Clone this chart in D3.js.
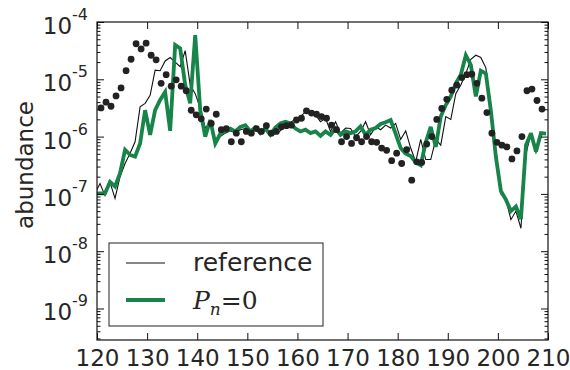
<!DOCTYPE html>
<html>
<head>
<meta charset="utf-8">
<script src="https://cdn.jsdelivr.net/npm/d3@7"></script>
<style>
  body { margin: 0; background: #fff; }
  text { font-family: "DejaVu Sans", sans-serif; fill: #262626; }
</style>
</head>
<body>
<div id="chart"></div>
<script>
// data, values are log10(abundance)
const xTicks = [120, 130, 140, 150, 160, 170, 180, 190, 200, 210];
const yDecades = [-9, -8, -7, -6, -5, -4];

// line samples sit at x = 119.6, 120.6, ... 209.6
const lineStart = 119.6;
const referenceLog = [
  -6.99, -6.82, -7.03, -6.80, -7.08, -6.70, -6.47, -6.29, -6.09, -5.48,
  -5.42, -5.28, -4.84, -4.85, -4.68, -4.62, -4.70, -4.78, -4.50, -5.10,
  -5.25, -5.50, -5.85, -5.75, -6.15, -6.00, -5.94, -5.90, -5.93, -5.88,
  -5.86, -5.90, -5.85, -5.92, -5.88, -5.95, -5.95, -5.90, -5.80, -5.75,
  -5.70, -5.65, -5.57, -5.60, -5.62, -5.74, -5.68, -5.91, -5.74, -5.94,
  -5.85, -5.86, -6.00, -5.91, -5.74, -5.97, -5.83, -5.88, -5.80, -5.85,
  -5.77, -6.05, -5.90, -6.20, -6.44, -6.05, -6.40, -6.40, -6.05, -6.15,
  -5.65, -5.70, -5.25, -5.10, -4.90, -4.65, -4.58, -4.62, -4.80, -5.50,
  -6.40, -7.00, -7.10, -7.45, -7.30, -7.60, -6.30, -5.95, -6.28, -5.95,
  -5.96
];
const pn0Log = [
  -6.99, -6.99, -6.99, -6.79, -6.87, -6.64, -6.23, -6.32, -6.35, -6.12,
  -5.54, -5.97, -5.54, -5.36, -5.22, -5.90, -4.40, -4.46, -5.10, -5.42,
  -4.23, -5.54, -6.00, -5.71, -6.12, -5.95, -5.90, -5.86, -5.91, -5.83,
  -5.80, -5.91, -5.84, -5.94, -5.86, -5.97, -5.84, -5.77, -5.74, -5.77,
  -5.86, -5.91, -5.88, -5.94, -5.91, -5.99, -5.91, -5.97, -5.86, -5.97,
  -5.91, -5.94, -5.91, -5.82, -5.97, -5.88, -5.85, -5.78, -5.75, -5.71,
  -5.95, -6.20, -6.30, -6.34, -6.45, -6.50, -6.10, -5.83, -6.18, -5.65,
  -5.45, -5.30, -5.07, -4.92, -4.58, -4.75, -5.30, -4.85, -4.90, -5.55,
  -6.35, -6.95, -7.10, -7.30, -7.22, -7.44, -6.15, -5.94, -6.26, -5.94,
  -5.95
];

// dots sit at x = 120.8, 121.8, ... 208.8
const dotStart = 120.8;
const dotsLog = [
  -5.50, -5.40, -5.47, -5.29, -5.15, -4.85, -4.65, -4.38, -4.47, -4.37,
  -4.58, -4.66, -5.07, -4.92, -5.12, -5.01, -5.12, -5.20, -5.54, -5.62,
  -5.69, -5.52, -5.77, -5.61, -5.88, -5.86, -6.09, -5.94, -6.09, -5.91,
  -5.94, -5.86, -5.91, -5.81, -5.94, -5.91, -5.83, -5.81, -5.80, -5.71,
  -5.68, -5.55, -5.59, -5.61, -5.65, -5.68, -5.80, -5.88, -6.09, -6.00,
  -6.12, -6.02, -6.09, -6.00, -6.09, -6.10, -6.20, -6.24, -6.42, -6.29,
  -6.47, -6.23, -6.76, -6.44, -6.45, -6.13, -6.00, -5.70, -5.51, -5.35,
  -5.19, -5.10, -4.97, -4.92, -4.91, -5.07, -5.33, -5.58, -5.94, -6.10,
  -6.15, -6.18, -6.39, -6.25, -6.00, -5.20, -5.17, -5.37, -5.52
];

const legendLabels = ['reference', 'Pn=0'];

const svgwidth = 570;
const svgheight = 370;
const margin = { top: 22, bottom: 30, left: 97, right: 22 };
const width = svgwidth - margin.left - margin.right;
const height = svgheight - margin.top - margin.bottom;

const green = '#17844a';

const svg = d3.select('#chart').append('svg')
  .attr('width', svgwidth).attr('height', svgheight);

const chartGroup = svg.append('g')
  .attr('transform', `translate(${margin.left},${margin.top})`);

// scales
const xScale = d3.scaleLinear().domain([120, 210]).range([0, width]);
const yScale = d3.scaleLog().domain([Math.pow(10, -9.55), 1e-4]).range([height, 0]);

// tidy rows
const refData = referenceLog.map((v, i) => ({ x: lineStart + i, y: Math.pow(10, v) }));
const pnData = pn0Log.map((v, i) => ({ x: lineStart + i, y: Math.pow(10, v) }));
const dotData = dotsLog.map((v, i) => ({ x: dotStart + i, y: Math.pow(10, v) }));

chartGroup.append('clipPath').attr('id', 'plotclip')
  .append('rect').attr('width', width).attr('height', height);

const plot = chartGroup.append('g').attr('clip-path', 'url(#plotclip)');

const line = d3.line().x(d => xScale(d.x)).y(d => yScale(d.y));

plot.append('path').datum(refData)
  .attr('d', line)
  .attr('fill', 'none')
  .attr('stroke', '#111')
  .attr('stroke-width', 1.1);

plot.append('path').datum(pnData)
  .attr('d', line)
  .attr('fill', 'none')
  .attr('stroke', green)
  .attr('stroke-width', 3.8)
  .attr('stroke-linejoin', 'miter')
  .attr('stroke-miterlimit', 3);

plot.selectAll('circle').data(dotData).enter()
  .append('circle')
  .attr('cx', d => xScale(d.x))
  .attr('cy', d => yScale(d.y))
  .attr('r', 3.4)
  .attr('fill', '#222');

// axes: ticks point inward on all four sides
const minorTicks = [];
for (let e = -10; e <= -5; e++) {
  for (let m = 2; m <= 9; m++) {
    const v = m * Math.pow(10, e);
    if (v >= yScale.domain()[0] && v <= 1e-4) minorTicks.push(v);
  }
}
const majorTicks = yDecades.map(e => Math.pow(10, e));

const xBottom = chartGroup.append('g')
  .attr('transform', `translate(0,${height})`)
  .call(d3.axisBottom(xScale).tickValues(xTicks).tickSizeInner(-7).tickSizeOuter(0).tickPadding(10));
const xTop = chartGroup.append('g')
  .call(d3.axisTop(xScale).tickValues(xTicks).tickSizeInner(-7).tickSizeOuter(0).tickFormat(''));

const yLeftMinor = chartGroup.append('g')
  .call(d3.axisLeft(yScale).tickValues(minorTicks).tickSizeInner(-3.5).tickSizeOuter(0).tickFormat(''));
const yLeft = chartGroup.append('g')
  .call(d3.axisLeft(yScale).tickValues(majorTicks).tickSizeInner(-7).tickSizeOuter(0).tickFormat(''));
const yRightMinor = chartGroup.append('g')
  .attr('transform', `translate(${width},0)`)
  .call(d3.axisRight(yScale).tickValues(minorTicks).tickSizeInner(-3.5).tickSizeOuter(0).tickFormat(''));
const yRight = chartGroup.append('g')
  .attr('transform', `translate(${width},0)`)
  .call(d3.axisRight(yScale).tickValues(majorTicks).tickSizeInner(-7).tickSizeOuter(0).tickFormat(''));

chartGroup.selectAll('.domain').remove();
chartGroup.selectAll('.tick line').attr('stroke', '#111').attr('stroke-width', 1);

xBottom.selectAll('text')
  .attr('font-size', 23)
  .attr('font-family', '"DejaVu Sans", sans-serif')
  .attr('fill', '#262626');

// y labels as 10 with a raised exponent
majorTicks.forEach((v, i) => {
  const t = chartGroup.append('text')
    .attr('x', -9)
    .attr('y', yScale(v) + 12)
    .attr('text-anchor', 'end');
  t.append('tspan').attr('font-size', 23).text('10');
  t.append('tspan').attr('font-size', 16).attr('dy', -14).text('-' + (-yDecades[i]));
});

// frame
chartGroup.append('rect')
  .attr('width', width).attr('height', height)
  .attr('fill', 'none').attr('stroke', '#111').attr('stroke-width', 1.2);

// y axis title
svg.append('text')
  .attr('transform', `translate(33, ${margin.top + 143}) rotate(-90)`)
  .attr('text-anchor', 'middle')
  .attr('font-size', 23)
  .text('abundance');

// legend
const legend = svg.append('g').attr('transform', 'translate(109,243)');
legend.append('rect')
  .attr('width', 214).attr('height', 83)
  .attr('fill', '#fff').attr('stroke', '#222').attr('stroke-width', 1);

legend.append('line')
  .attr('x1', 17).attr('x2', 56).attr('y1', 20).attr('y2', 20)
  .attr('stroke', '#111').attr('stroke-width', 1.1);
legend.append('text')
  .attr('x', 84).attr('y', 28)
  .attr('font-size', 25)
  .text(legendLabels[0]);

legend.append('line')
  .attr('x1', 17).attr('x2', 56).attr('y1', 57).attr('y2', 57)
  .attr('stroke', green).attr('stroke-width', 4);
const pn = legend.append('text')
  .attr('x', 84).attr('y', 66)
  .style('font-family', '"DejaVu Serif", "Liberation Serif", serif');
pn.append('tspan').attr('font-size', 25).attr('font-style', 'italic').text(legendLabels[1].charAt(0));
pn.append('tspan').attr('font-size', 17).attr('font-style', 'italic').attr('dy', 6).text(legendLabels[1].charAt(1));
pn.append('tspan').attr('font-size', 25).attr('dy', -6).text(legendLabels[1].slice(2));
</script>
</body>
</html>
